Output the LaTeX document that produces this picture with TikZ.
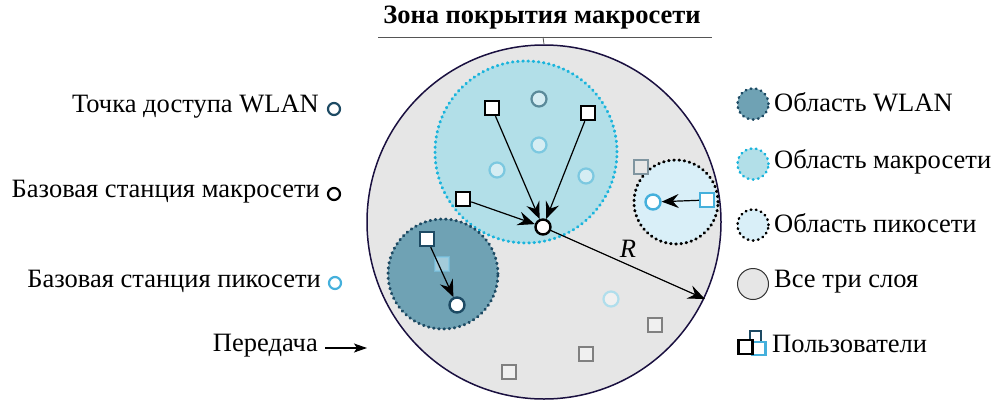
\documentclass[tikz,border=0pt]{standalone}
\usepackage{fontspec}
\setmainfont{Liberation Serif}
\usetikzlibrary{arrows.meta}
\definecolor{bgray}{HTML}{E6E6E6}
\definecolor{navy}{HTML}{1A1040}
\definecolor{macrofill}{HTML}{B2DFE8}
\definecolor{macroline}{HTML}{1AB4DC}
\definecolor{wlanfill}{HTML}{6FA2B4}
\definecolor{wlanline}{HTML}{1D4A63}
\definecolor{picofill}{HTML}{D9EFF8}
\definecolor{picoline}{HTML}{45B0DC}
\definecolor{pbsfill}{HTML}{D5EDF3}
\definecolor{pbsline}{HTML}{7CC8E0}
\definecolor{pbsdark}{HTML}{5A8A9A}
\definecolor{gsqline}{HTML}{808080}
\definecolor{gsqline2}{HTML}{8095A0}
\definecolor{gsqfill}{HTML}{F0F0F0}
\definecolor{titleline}{HTML}{555555}
\begin{document}
\begin{tikzpicture}[x=1pt,y=-1pt,
  txt/.style={font=\fontsize{26.5}{30}\selectfont, inner sep=0pt},
  dotb/.style={line width=3pt, line cap=round, dash pattern=on 0.6pt off 4.6pt},
  user/.style={draw, fill=white, line width=2.4pt, minimum size=14pt, inner sep=0pt},
  gsq/.style={draw=gsqline, fill=gsqfill, line width=2.2pt, minimum size=14pt, inner sep=0pt},
  bs/.style={circle, draw, fill=white, line width=2.4pt, minimum size=15pt, inner sep=0pt},
  pbs/.style={circle, draw=pbsline, fill=pbsfill, line width=2.2pt, minimum size=15pt, inner sep=0pt},
  leg/.style={circle, draw, line width=2.2pt, minimum size=12pt, inner sep=0pt},
  lcirc/.style={circle, minimum size=31pt, inner sep=0pt},
  tx/.style={line width=1.2pt, -{Stealth[length=17pt, width=14pt, inset=6pt]}}
]
\useasboundingbox (0,0) rectangle (995,405);
% title
\node[txt, font=\fontsize{26.5}{30}\selectfont\bfseries] (title) at (542,18) {Зона покрытия макросети};
\draw[line width=0.8pt, titleline] (378,37) -- (712,37);
\coordinate (tick) at (543,37);
% main circle
\node[circle, draw=navy, fill=bgray, line width=1.5pt, minimum size=354pt, inner sep=0pt] (main) at (544,222) {};
\draw[line width=0.8pt, titleline] (tick) -- (main.north);
% areas
\node[circle, draw=macroline, fill=macrofill, dotb, minimum size=182pt, inner sep=0pt] (macro) at (526,152) {};
\node[circle, draw=wlanline, fill=wlanfill, dotb, minimum size=110pt, inner sep=0pt] (wlan) at (443,274) {};
\node[circle, draw=black, fill=picofill, dotb, minimum size=84pt, inner sep=0pt] (pico) at (676,202) {};
% pico base stations in macro area
\node[pbs, draw=pbsdark] (p1) at (539,99) {};
\node[pbs] (p2) at (539,145) {};
\node[pbs] (p3) at (497,170) {};
\node[pbs] (p4) at (586,176) {};
\node[pbs, draw=pbsline!60, fill=gsqfill] (p5) at (611,299) {};
% grey users
\node[gsq, draw=gsqline2, fill=bgray] (g0) at (641,167) {};
\node[gsq] (g1) at (655,325) {};
\node[gsq] (g2) at (586,354) {};
\node[gsq] (g3) at (509,372) {};
% macro users and BS
\node[bs] (mbs) at (543,227) {};
\node[user] (u1) at (492,108) {};
\node[user] (u2) at (588,113) {};
\node[user] (u3) at (463,199) {};
\draw[tx] (u1) -- (mbs);
\draw[tx] (u2) -- (mbs);
\draw[tx] (u3) -- (mbs);
% pico
\node[bs, draw=picoline] (pbs) at (653,202) {};
\node[user, draw=picoline] (pu) at (707,200) {};
\draw[tx] (pu) -- (pbs);
% wlan
\node[user, draw=picoline!70, fill=white!70!picoline, opacity=0.6] (wf) at (442,264) {};
\node[bs, draw=wlanline] (ap) at (457,305) {};
\node[user, draw=wlanline] (wu) at (427,239) {};
\draw[tx] (wu) -- (ap);
% radius
\coordinate (rend) at (705,299);
\draw[tx] (mbs) -- (rend);
\node[txt, font=\fontsize{26.5}{30}\selectfont\itshape] (R) at (628,249) {R};
% left legend
\node[leg, draw=wlanline] (l1) at (334,109) {};
\node[txt, anchor=east] (t1) at (319,107) {Точка доступа WLAN};
\node[leg, draw=black] (l2) at (334,194) {};
\node[txt, anchor=east] (t2) at (320,192) {Базовая станция макросети};
\node[leg, draw=picoline] (l3) at (335,283) {};
\node[txt, anchor=east] (t3) at (321,281) {Базовая станция пикосети};
\node[txt, anchor=east] (t4) at (318,346) {Передача};
\coordinate (a1) at (325,348);
\coordinate (a2) at (367,348);
\draw[line width=1.1pt, -{Stealth[length=13pt, width=9pt, inset=3pt]}] (a1) -- (a2);
% right legend
\node[lcirc, draw=wlanline, fill=wlanfill, dotb, line width=2.6pt] (r1) at (753,104) {};
\node[txt, anchor=west] (rt1) at (774,102) {Область WLAN};
\node[lcirc, draw=macroline, fill=macrofill, dotb, line width=2.6pt] (r2) at (753,164) {};
\node[txt, anchor=west] (rt2) at (774,162) {Область макросети};
\node[lcirc, draw=black, fill=picofill, dotb, line width=2.6pt] (r3) at (753,225) {};
\node[txt, anchor=west] (rt3) at (774,223) {Область пикосети};
\node[lcirc, draw=black!80, fill=bgray, line width=1pt] (r4) at (753,284) {};
\node[txt, anchor=west] (rt4) at (774,282) {Все три слоя};
\node[draw=wlanline, fill=white, line width=2.2pt, minimum size=11pt, inner sep=0pt] (ua) at (755.5,336.5) {};
\node[draw=picoline, fill=white, line width=2.2pt, minimum size=13pt, inner sep=0pt] (ub) at (759,348.5) {};
\node[draw=black, fill=white, line width=2.4pt, minimum size=14pt, inner sep=0pt] (uc) at (745.5,347) {};
\node[txt, anchor=west] (rt5) at (772,344) {Пользователи};
\end{tikzpicture}
\end{document}
